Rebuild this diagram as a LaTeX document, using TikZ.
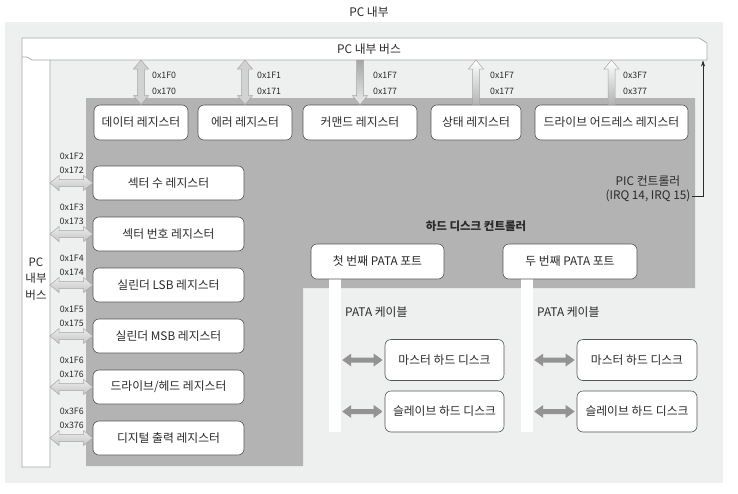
\documentclass[tikz,border=0pt]{standalone}
\usepackage{fontspec}
\setmainfont{Noto Sans CJK KR}
\usetikzlibrary{calc,arrows.meta}
\definecolor{lightbg}{HTML}{EEEFEF}
\definecolor{darkbg}{HTML}{B3B3B3}
\definecolor{busline}{HTML}{A8A8A8}
\definecolor{boxline}{HTML}{555555}
\definecolor{txt}{HTML}{2A2A2A}
\newcommand{\vdbl}[3][]{\path[#1] (#2) -- ++(7.5,9) -- ++(-4,0) -- ($(#3)+(3.5,-9)$) -- ++(4,0) -- (#3) -- ++(-7.5,-9) -- ++(4,0) -- ($(#2)+(-3.5,9)$) -- ++(-4,0) -- cycle;}
\newcommand{\vdown}[3][]{\path[#1] ($(#2)+(-3.5,0)$) -- ($(#2)+(3.5,0)$) -- ($(#3)+(3.5,-9)$) -- ++(4,0) -- (#3) -- ++(-7.5,-9) -- ++(4,0) -- cycle;}
\newcommand{\vup}[3][]{\path[#1] (#2) -- ++(7.5,9) -- ++(-4,0) -- ($(#3)+(3.5,0)$) -- ($(#3)+(-3.5,0)$) -- ($(#2)+(-3.5,9)$) -- ++(-4,0) -- cycle;}
\newcommand{\hdbl}[3][]{\path[#1] (#2) -- ++(9,-7.5) -- ++(0,4) -- ($(#3)+(-9,-3.5)$) -- ++(0,-4) -- (#3) -- ++(-9,7.5) -- ++(0,-4) -- ($(#2)+(9,3.5)$) -- ++(0,4) -- cycle;}
\newcommand{\hdisk}[3][]{\path[#1] (#2) -- ++(9,-6.5) -- ++(0,4) -- ($(#3)+(-9,-2.5)$) -- ++(0,-4) -- (#3) -- ++(-9,6.5) -- ++(0,-4) -- ($(#2)+(9,2.5)$) -- ++(0,4) -- cycle;}
\begin{document}
\begin{tikzpicture}[x=1pt,y=-1pt,
  reg/.style={draw=boxline, line width=0.6pt, fill=white, rounded corners=6pt,
    font=\fontsize{11.8}{13}\selectfont, text=txt, inner sep=0pt, minimum height=35pt},
  hex/.style={font=\fontsize{8.8}{10}\selectfont, text=txt, inner sep=0pt},
  lbl/.style={font=\fontsize{11.8}{13}\selectfont, text=txt, inner sep=0pt},
  cable/.style={fill=white, inner sep=0pt, minimum width=12pt, minimum height=153pt},
  dblarrow/.style={draw=gray!70, line width=0.5pt, top color=gray!35, middle color=white, bottom color=gray!35},
  downarrow/.style={draw=gray!70, line width=0.5pt, top color=gray!70, bottom color=gray!15},
  uparrow/.style={draw=gray!70, line width=0.5pt, top color=white, bottom color=gray!60},
  sidearrow/.style={draw=gray!70, line width=0.5pt, top color=gray!15, middle color=white, bottom color=gray!45},
  diskarrow/.style={left color=gray!85, middle color=white, right color=gray!85},
]
\useasboundingbox (0,0) rectangle (738,493);
% backgrounds
\fill[lightbg] (5,22) rectangle (723,483);
\fill[darkbg] (86,98) -- (695,98) -- (695,288) -- (303,288) -- (303,466) -- (86,466) -- cycle;
% bus
\path[fill=white, draw=busline, line width=0.7pt] (22,38) -- (699,38) -- (707,43) -- (707,60) -- (50,60) -- (50,467) -- (22,467) -- cycle;
\draw[busline, line width=0.7pt] (22,57) -- (27,57) -- (32,60) -- (50,60);
\coordinate (bb) at (0,60);
\coordinate (lbar) at (50,0);
\coordinate (busR) at (703,60.5);

\node[lbl] (title) at (369,12) {PC 내부};
\node[lbl] (buslbl) at (369,49) {PC 내부 버스};
\node[lbl, align=center, font=\fontsize{11.5}{16.5}\selectfont] (vbus) at (36,279) {PC\\내부\\버스};

% top registers
\node[reg, minimum width=94pt] (d1) at (141,122.5) {데이터 레지스터};
\node[reg, minimum width=94pt] (d2) at (245,122.5) {에러 레지스터};
\node[reg, minimum width=114pt] (d3) at (360,122.5) {커맨드 레지스터};
\node[reg, minimum width=90pt] (d4) at (476,122.5) {상태 레지스터};
\node[reg, minimum width=153pt] (d5) at (611.5,122.5) {드라이브 어드레스 레지스터};

\coordinate (t1) at (d1.north |- bb);
\coordinate (t2) at (d2.north |- bb);
\coordinate (t3) at (d3.north |- bb);
\coordinate (t4) at (d4.north |- bb);
\coordinate (t5) at (d5.north |- bb);
\vdbl[dblarrow]{t1}{d1.north}
\vdbl[dblarrow]{t2}{d2.north}
\vdown[downarrow]{t3}{d3.north}
\vup[uparrow]{t4}{d4.north}
\vup[uparrow]{t5}{d5.north}

\node[hex, anchor=west] (h1a) at (152,75) {0x1F0};
\node[hex, anchor=west] (h1b) at (152,91) {0x170};
\node[hex, anchor=west] (h2a) at (257,75) {0x1F1};
\node[hex, anchor=west] (h2b) at (257,91) {0x171};
\node[hex, anchor=west] (h3a) at (373,75) {0x1F7};
\node[hex, anchor=west] (h3b) at (373,91) {0x177};
\node[hex, anchor=west] (h4a) at (490,75) {0x1F7};
\node[hex, anchor=west] (h4b) at (490,91) {0x177};
\node[hex, anchor=west] (h5a) at (623,75) {0x3F7};
\node[hex, anchor=west] (h5b) at (623,91) {0x377};

% left registers
\node[reg, minimum width=151pt, minimum height=34pt] (s1) at (168.5,183) {섹터 수 레지스터};
\node[reg, minimum width=151pt, minimum height=34pt] (s2) at (168.5,234) {섹터 번호 레지스터};
\node[reg, minimum width=151pt, minimum height=34pt] (s3) at (168.5,285) {실린더 LSB 레지스터};
\node[reg, minimum width=151pt, minimum height=34pt] (s4) at (168.5,336) {실린더 MSB 레지스터};
\node[reg, minimum width=151pt, minimum height=34pt] (s5) at (168.5,387) {드라이브/헤드 레지스터};
\node[reg, minimum width=151pt, minimum height=34pt] (s6) at (168.5,438) {디지털 출력 레지스터};

\foreach \i/\a/\b in {1/0x1F2/0x172, 2/0x1F3/0x173, 3/0x1F4/0x174, 4/0x1F5/0x175, 5/0x1F6/0x176, 6/0x3F6/0x376}{
  \coordinate (l\i) at (lbar |- s\i.west);
  \hdbl[sidearrow]{l\i}{s\i.west}
  \node[hex] (ha\i) at ($(s\i.west)+(-21,-27)$) {\a};
  \node[hex] (hb\i) at ($(s\i.west)+(-21,-13)$) {\b};
}

% PIC
\node[lbl] (pic1) at (648,181) {PIC 컨트롤러};
\node[lbl] (pic2) at (648,196) {(IRQ 14, IRQ 15)};
\draw[txt, line width=0.6pt, -{Stealth[length=6pt,width=4pt]}] ($(pic2.east)+(1.5,0)$) -| (busR);

% hard disk controller
\node[lbl, font=\bfseries\fontsize{11.5}{13}\selectfont] (hdc) at (476,226) {하드 디스크 컨트롤러};

\node[cable] (c1) at (335,355.5) {};
\node[cable] (c2) at (527,355.5) {};

\node[reg, minimum width=133pt] (p1) at (377.5,261.5) {첫 번째 PATA 포트};
\node[reg, minimum width=134pt] (p2) at (570,261.5) {두 번째 PATA 포트};

\node[lbl, anchor=west] (cab1) at (345,312) {PATA 케이블};
\node[lbl, anchor=west] (cab2) at (537,312) {PATA 케이블};

\node[reg, minimum width=119pt, minimum height=41pt] (m1) at (444.5,360) {마스터 하드 디스크};
\node[reg, minimum width=119pt, minimum height=41pt] (sl1) at (444.5,411.5) {슬레이브 하드 디스크};
\node[reg, minimum width=120pt, minimum height=41pt] (m2) at (637,360) {마스터 하드 디스크};
\node[reg, minimum width=120pt, minimum height=41pt] (sl2) at (637,411.5) {슬레이브 하드 디스크};

\foreach \c/\n in {c1/m1, c1/sl1, c2/m2, c2/sl2}{
  \coordinate (da) at ($(\c.east |- \n.west)+(1,0)$);
  \coordinate (db) at ($(\n.west)+(-2,0)$);
  \hdisk[diskarrow]{da}{db}
}
\end{tikzpicture}
\end{document}
